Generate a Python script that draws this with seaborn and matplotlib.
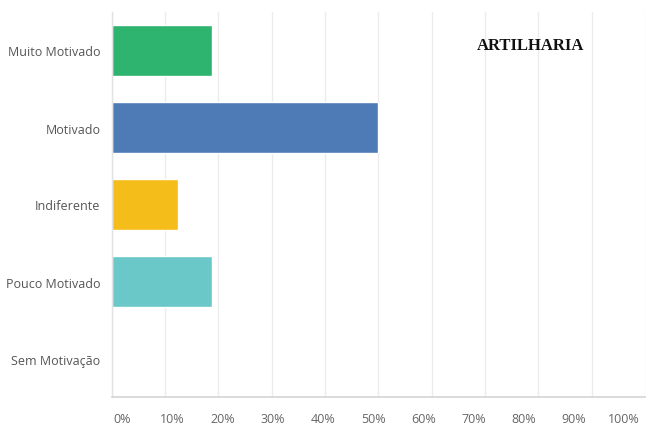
import matplotlib
matplotlib.use("Agg")
import matplotlib.pyplot as plt
import seaborn as sns
import pandas as pd

# Survey answers: share of respondents per motivation level (%)
categories = ["Muito Motivado", "Motivado", "Indiferente", "Pouco Motivado", "Sem Motivação"]
percentages = [18.75, 50.0, 12.5, 18.75, 0.0]
bar_colors = ["#2EB46E", "#4E7AB6", "#F5BD1A", "#6AC8C9", "#B0B0B0"]
tick_values = [0, 10, 20, 30, 40, 50, 60, 70, 80, 90, 100]
tick_labels = ["0%", "10%", "20%", "30%", "40%", "50%", "60%", "70%", "80%", "90%", "100%"]
title_text = "ARTILHARIA"

df = pd.DataFrame({"categoria": categories, "pct": percentages})

sns.set_theme(style="white")
plt.rcParams["font.family"] = ["Open Sans", "DejaVu Sans"]

fig = plt.figure(figsize=(6.49, 4.27), dpi=100)
ax = fig.add_axes([111.7 / 649, 1 - 398 / 427, (645 - 111.7) / 649, (398 - 13) / 427])

sns.barplot(data=df, x="pct", y="categoria", hue="categoria", palette=bar_colors,
            order=categories, hue_order=categories, legend=False,
            width=0.675, saturation=1, ax=ax)

ax.set_xlim(0, 100)
ax.set_ylim(4.5, -0.5)

# light vertical gridlines behind the bars
for v in tick_values:
    ax.axvline(v, color="#ECECEC", lw=1, zorder=0)

# tick labels sit slightly compressed under the grid
label_pos = [1.9 + 9.42 * i for i in range(len(tick_values))]
ax.set_xticks(label_pos)
ax.set_xticklabels(tick_labels)
ax.tick_params(axis="x", length=0, pad=11, labelsize=9, labelcolor="#666666")
ax.tick_params(axis="y", length=0, pad=8, labelsize=9, labelcolor="#555555")

ax.set_xlabel("")
ax.set_ylabel("")
for side in ["top", "right"]:
    ax.spines[side].set_visible(False)
ax.spines["left"].set_color("#E2E2E2")
ax.spines["bottom"].set_color("#D4D4D4")
ax.spines["left"].set_linewidth(1)
ax.spines["bottom"].set_linewidth(1.2)

ax.text(0.785, 0.915, title_text, transform=ax.transAxes, ha="center", va="center",
        fontfamily="Liberation Serif", fontweight="bold", fontsize=12, color="#111111")

fig.savefig("out.png", dpi=100)
